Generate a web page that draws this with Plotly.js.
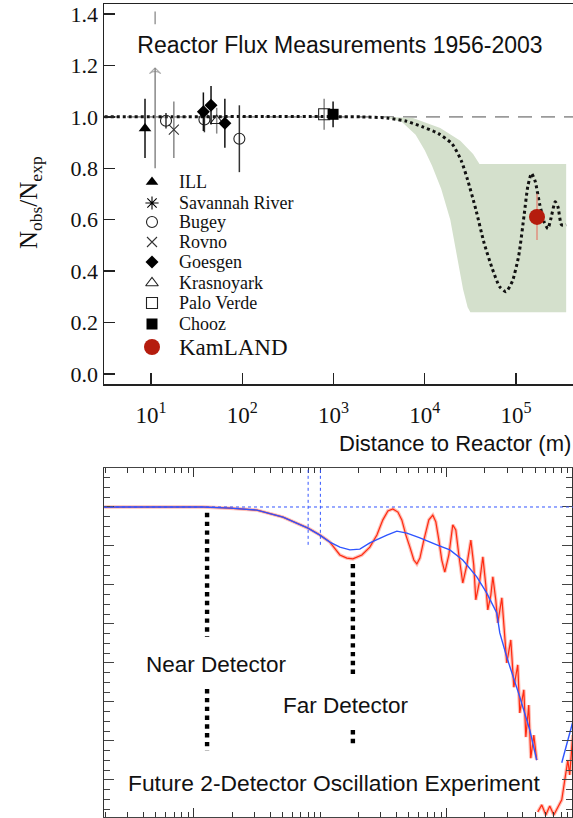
<!DOCTYPE html>
<html><head><meta charset="utf-8">
<script src="https://cdn.plot.ly/plotly-3.0.1.min.js"></script>
<style>html,body{margin:0;padding:0;background:#fff}#chart{width:573px;height:818px}</style>
</head><body><div id="chart"></div>
<script>
// ===================== TOP PANEL DATA (distance in m, Nobs/Nexp) =====================
const illX = [8.6],   illY = [0.955], illErr = [0.115];
const savX = [11.1],  savLowY = [0.80], savHighY = [1.19], savTopLow = [1.36], savTopHigh = [1.41];
const bugeyX = [14.6, 38.5, 93], bugeyY = [0.985, 0.99, 0.915], bugeyErr = [0.03, 0.05, 0.13];
const rovnoX = [17.8], rovnoY = [0.95], rovnoErr = [0.11];
const goesX = [37.5, 45.5, 64.5], goesY = [1.02, 1.045, 0.975], goesErr = [0.075, 0.075, 0.095];
const krasX = [52.5], krasY = [0.985], krasErr = [0.05];
const pvX = [790], pvY = [1.01], pvErr = [0.06];
const choozX = [990], choozY = [1.01], choozErr = [0.05];
const kamX = [170000], kamY = [0.611], kamErr = [0.09];

// oscillation expectation (dotted)
const oscX = [3.1, 2000, 4000, 6310, 9333, 14125, 19953, 25119, 29512, 36308, 44668, 54954, 66069, 77625,
              91201, 107152, 123027, 134896, 147911, 162181, 181970, 204174, 223872, 239883, 269153, 288403, 316228, 354813];
const oscY = [1.0, 1.0, 0.995, 0.983, 0.962, 0.935, 0.895, 0.83, 0.755, 0.64, 0.51, 0.41, 0.34, 0.32,
              0.36, 0.46, 0.62, 0.73, 0.78, 0.75, 0.66, 0.59, 0.565, 0.60, 0.67, 0.65, 0.58, 0.58];

// allowed region band
const bandUpX = [3548, 7413, 14791, 24547, 33884, 39811, 354813];
const bandUpY = [1.0, 0.996, 0.957, 0.907, 0.856, 0.817, 0.817];
const bandLoX = [3548, 5623, 7943, 10000, 12023, 15136, 19055, 22909, 26303, 29512, 31623, 354813];
const bandLoY = [1.0, 0.98, 0.93, 0.87, 0.81, 0.72, 0.60, 0.45, 0.33, 0.26, 0.24, 0.24];

const topTickVals = [10, 100, 1000, 10000, 100000];
const topTickText = ['10<sup>1</sup>', '10<sup>2</sup>', '10<sup>3</sup>', '10<sup>4</sup>', '10<sup>5</sup>'];
const yTickVals = [0, 0.2, 0.4, 0.6, 0.8, 1.0, 1.2, 1.4];

const legendLabels = ['ILL', 'Savannah River', 'Bugey', 'Rovno', 'Goesgen', 'Krasnoyark', 'Palo Verde', 'Chooz', 'KamLAND'];

// ===================== BOTTOM PANEL DATA =====================
const blueX = [19.5, 118, 193, 315, 506, 796, 991, 1189, 1426, 1710, 2051, 2460, 3357, 4027, 4831, 6124, 8337,
               10568, 13366, 17258, 20701, 24831, 26242, 29785, 37757, 45290, 51404, null, 81096, 99083];
const blueY = [1.0, 1.0, 0.997, 0.992, 0.974, 0.946, 0.928, 0.910, 0.897, 0.890, 0.892, 0.908, 0.928, 0.938, 0.933, 0.921, 0.903,
               0.890, 0.864, 0.821, 0.779, 0.728, 0.677, 0.615, 0.513, 0.428, 0.351, null, 0.344, 0.449];

const redX = [19.5, 118, 193, 315, 506, 796, 991, 1189, 1426, 1618, 1807, 2128, 2460, 2799, 3119, 3420, 3741, 4102, 4406, 4742,
              5105, 5483, 5794, 6124, 6577, 7211, 7745, 8185, 8650, 9120, 9638, 10375, 11143, 11776, 12445, 13366,
              14388, 15488, 16331, 16943, 18239, 19275, 20324, 21086, 22284, 23121, 24378, 25293, 27227, 28708,
              29785, 32063, 33884, 36392, 37757, 40644, 42170, 44463, 46132, 48753, 51404, null,
              52360, 56364, 60674, 65163, 70146, 75336, 81096, 85704, 90573, 93756, 99083];
const redY = [1.0, 1.0, 0.997, 0.992, 0.974, 0.946, 0.928, 0.910, 0.877, 0.869, 0.867, 0.877, 0.897, 0.928, 0.967, 0.990, 0.995, 0.987, 0.967, 0.928,
              0.897, 0.864, 0.854, 0.869, 0.915, 0.967, 0.979, 0.962, 0.915, 0.864, 0.833, 0.877, 0.954, 0.941, 0.877, 0.805,
              0.851, 0.915, 0.851, 0.762, 0.813, 0.872, 0.800, 0.736, 0.774, 0.821, 0.762, 0.703, 0.767, 0.667,
              0.600, 0.659, 0.538, 0.595, 0.472, 0.531, 0.410, 0.492, 0.356, 0.415, 0.351, null,
              0.218, 0.236, 0.210, 0.233, 0.210, 0.228, 0.249, 0.300, 0.351, 0.313, 0.415];

const refDist = [800, 1000];               // Palo Verde / Chooz baselines (blue dotted)
const nearDist = 127, farDist = 1807;      // detector positions
const nearSegY = [0.985, 0.667, null, 0.533, 0.374];
const farSegY  = [0.854, 0.562, null, 0.428, 0.385];

// ===================== STYLES =====================
const SERIF = 'Liberation Serif, Times New Roman, serif';
const SANS = 'Liberation Sans, Arial, Helvetica, sans-serif';
const AX = '#222';
const sty = {
  'ILL':            {symbol: 'triangle-up', size: 11, color: '#000', lw: 0, err: '#111'},
  'Savannah River': {symbol: 'asterisk-open', size: 11, color: '#000', lw: 1.1, err: '#888'},
  'Bugey':          {symbol: 'circle-open', size: 11, color: '#222', lw: 1.1, err: '#333'},
  'Rovno':          {symbol: 'x-thin-open', size: 10, color: '#333', lw: 1.1, err: '#888'},
  'Goesgen':        {symbol: 'diamond', size: 10, color: '#000', lw: 0, err: '#111'},
  'Krasnoyark':     {symbol: 'triangle-up-open', size: 11, color: '#222', lw: 1.1, err: '#888'},
  'Palo Verde':     {symbol: 'square-open', size: 11, color: '#222', lw: 1.1, err: '#888'},
  'Chooz':          {symbol: 'square', size: 11, color: '#000', lw: 0, err: '#111'},
  'KamLAND':        {symbol: 'circle', size: 16, color: '#b51c0e', lw: 0, err: '#e0907f'}
};

function expTrace(name, x, y, err) {
  const s = sty[name];
  return {
    type: 'scatter', mode: 'markers', x: x, y: y, xaxis: 'x', yaxis: 'y', hoverinfo: 'skip',
    marker: {symbol: s.symbol, size: s.size, color: s.color, line: {width: s.lw, color: s.color}},
    error_y: {type: 'data', array: err, visible: true, color: s.err, thickness: 1.5, width: 0}
  };
}

const traces = [];
// band
traces.push({type: 'scatter', mode: 'lines', x: bandUpX.concat(bandLoX.slice().reverse()),
  y: bandUpY.concat(bandLoY.slice().reverse()), fill: 'toself', fillcolor: '#d4e0cc',
  line: {width: 0}, xaxis: 'x', yaxis: 'y', hoverinfo: 'skip'});
// oscillation dotted
traces.push({type: 'scatter', mode: 'lines', x: oscX, y: oscY, line: {color: '#111', width: 3, dash: 'dot', shape: 'spline', smoothing: 0.6},
  xaxis: 'x', yaxis: 'y', hoverinfo: 'skip'});
// Savannah River gray bars with arrow
traces.push({type: 'scatter', mode: 'lines+markers', x: [savX[0], savX[0]], y: [savLowY[0], savHighY[0]],
  line: {color: '#888', width: 1.5}, marker: {symbol: 'arrow-wide-open', size: [0, 8], color: '#888', line: {width: 1.2, color: '#888'}},
  xaxis: 'x', yaxis: 'y', hoverinfo: 'skip'});
traces.push({type: 'scatter', mode: 'lines', x: [savX[0], savX[0]], y: [savTopLow[0], savTopHigh[0]],
  line: {color: '#999', width: 1.5}, xaxis: 'x', yaxis: 'y', hoverinfo: 'skip'});
traces.push(expTrace('Rovno', rovnoX, rovnoY, rovnoErr));
traces.push(expTrace('Krasnoyark', krasX, krasY, krasErr));
traces.push(expTrace('Palo Verde', pvX, pvY, pvErr));
traces.push(expTrace('Bugey', bugeyX, bugeyY, bugeyErr));
traces.push(expTrace('ILL', illX, illY, illErr));
traces.push(expTrace('Goesgen', goesX, goesY, goesErr));
traces.push(expTrace('Chooz', choozX, choozY, choozErr));
traces.push(expTrace('KamLAND', kamX, kamY, kamErr));

// legend (drawn on a pixel overlay axis of the top panel)
const legX = 152, legTextX = 177;
const legRowY = [182, 203, 222, 242, 262, 283, 303, 324, 347];
legendLabels.forEach((lab, i) => {
  const s = sty[lab];
  traces.push({type: 'scatter', mode: 'markers', x: [legX], y: [legRowY[i]], xaxis: 'x3', yaxis: 'y3', hoverinfo: 'skip',
    marker: {symbol: s.symbol, size: s.size, color: s.color, line: {width: s.lw, color: s.color}}});
});

// bottom panel curves
traces.push({type: 'scatter', mode: 'lines', x: redX, y: redY, xaxis: 'x2', yaxis: 'y2', hoverinfo: 'skip',
  line: {color: 'rgba(255,110,90,0.45)', width: 3.5}, connectgaps: false});
traces.push({type: 'scatter', mode: 'lines', x: redX, y: redY, xaxis: 'x2', yaxis: 'y2', hoverinfo: 'skip',
  line: {color: '#ff2a10', width: 1.2}, connectgaps: false});
traces.push({type: 'scatter', mode: 'lines', x: blueX, y: blueY, xaxis: 'x2', yaxis: 'y2', hoverinfo: 'skip',
  line: {color: '#2f55ff', width: 1.4}, connectgaps: false});
// detector positions
[nearDist, farDist].forEach((d, k) => {
  const segY = k === 0 ? nearSegY : farSegY;
  traces.push({type: 'scatter', mode: 'lines', x: segY.map(v => v === null ? null : d), y: segY,
    xaxis: 'x2', yaxis: 'y2', hoverinfo: 'skip', connectgaps: false,
    line: {color: '#000', width: 4.4, dash: '4.4px,4.4px'}});
});

// ===================== LAYOUT =====================
const W = 573, H = 818;
const py = v => (H - v) / H;
const xDom = [104 / W, 1];

const shapes = [
  {type: 'line', xref: 'paper', yref: 'y', x0: xDom[0], x1: 1, y0: 1, y1: 1, layer: 'below',
   line: {color: '#9a9a9a', width: 1.6, dash: '14px,9px'}},
  {type: 'line', xref: 'paper', yref: 'y2', x0: xDom[0], x1: 1, y0: 1, y1: 1,
   line: {color: '#3355ff', width: 1, dash: 'dot'}}
];
refDist.forEach(d => shapes.push({type: 'line', xref: 'x2', yref: 'y2', x0: d, x1: d, y0: 0.903, y1: 1.1,
  line: {color: '#3355ff', width: 1, dash: 'dot'}}));

const annotations = [
  {xref: 'paper', yref: 'paper', x: 30 / W, y: py(203), xanchor: 'center', yanchor: 'middle',
   text: 'N<sub>obs</sub>/N<sub>exp</sub>', textangle: -90,
   showarrow: false, font: {family: SERIF, size: 25, color: '#111'}},
  {xref: 'paper', yref: 'paper', x: 1, y: py(443), xanchor: 'right', yanchor: 'middle', text: 'Distance to Reactor (m)',
   showarrow: false, font: {family: SANS, size: 22, color: '#111'}},
  {xref: 'paper', yref: 'paper', x: 216 / W, y: py(664), xanchor: 'center', yanchor: 'middle', text: 'Near Detector', showarrow: false,
   font: {family: SANS, size: 22.5, color: '#111'}},
  {xref: 'paper', yref: 'paper', x: 346 / W, y: py(705), xanchor: 'center', yanchor: 'middle', text: 'Far Detector', showarrow: false,
   font: {family: SANS, size: 22.5, color: '#111'}},
  {xref: 'paper', yref: 'paper', x: 334 / W, y: py(783), xanchor: 'center', yanchor: 'middle',
   text: 'Future 2-Detector Oscillation Experiment', showarrow: false,
   font: {family: SANS, size: 22.8, color: '#111'}}
];
legendLabels.forEach((lab, i) => {
  annotations.push({xref: 'x3', yref: 'y3', x: legTextX, y: legRowY[i], xanchor: 'left', yanchor: 'middle', text: lab,
    showarrow: false, font: {family: SERIF, size: lab === 'KamLAND' ? 23 : 18, color: '#111'}});
});

const layout = {
  width: W, height: H, autosize: false, showlegend: false,
  margin: {l: 0, r: 0, t: 0, b: 0, pad: 0},
  paper_bgcolor: '#fff', plot_bgcolor: 'rgba(0,0,0,0)',
  title: {text: 'Reactor Flux Measurements 1956-2003', x: 340 / W, xanchor: 'center', xref: 'paper',
          y: py(45), yanchor: 'middle', yref: 'paper', font: {family: SANS, size: 23, color: '#111'}},
  xaxis: {type: 'log', domain: xDom, anchor: 'y', range: [0.485, 5.625],
          tickmode: 'array', tickvals: topTickVals, ticktext: topTickText,
          ticks: 'inside', ticklen: 11, tickwidth: 1.3, tickcolor: AX, showline: true, linecolor: AX, linewidth: 1.5,
          mirror: true, showgrid: false, zeroline: false, ticklabelstandoff: 10,
          tickfont: {family: SERIF, size: 23, color: '#111'}},
  yaxis: {domain: [py(384), py(4)], anchor: 'x', range: [-0.039, 1.439], tickmode: 'array', tickvals: yTickVals,
          tickformat: '.1f', ticks: 'inside', ticklen: 11, tickwidth: 1.3, tickcolor: AX, showline: true, linecolor: AX,
          linewidth: 1.5, showgrid: false, zeroline: false, tickfont: {family: SERIF, size: 22, color: '#111'}},
  xaxis3: {overlaying: 'x', anchor: 'y3', range: [104, 573], visible: false, fixedrange: true},
  yaxis3: {overlaying: 'y', anchor: 'x3', range: [384, 4], visible: false, fixedrange: true},
  xaxis2: {type: 'log', domain: [104 / W, 572 / W], anchor: 'y2', range: [1.2885, 4.99], tick0: 0, dtick: 2,
           ticks: 'inside', ticklen: 9, tickwidth: 1, tickcolor: '#333', showticklabels: false,
           minor: {dtick: 'D1', ticks: 'inside', ticklen: 5, tickwidth: 1, tickcolor: '#333', showgrid: false},
           showline: true, linecolor: '#444', linewidth: 1.3, mirror: 'ticks', showgrid: false, zeroline: false},
  yaxis2: {domain: [py(817), py(468)], anchor: 'x2', range: [0.205, 1.1], tick0: 0, dtick: 0.1,
           ticks: 'inside', ticklen: 10, tickwidth: 1, tickcolor: '#444', showticklabels: false,
           minor: {dtick: 0.025, ticks: 'inside', ticklen: 6, tickwidth: 1, tickcolor: '#444', showgrid: false},
           showline: true, linecolor: '#333', linewidth: 1.3, mirror: 'ticks', showgrid: false, zeroline: false},
  shapes: shapes,
  annotations: annotations
};

Plotly.newPlot('chart', traces, layout, {staticPlot: true, displayModeBar: false});
</script>
</body></html>
